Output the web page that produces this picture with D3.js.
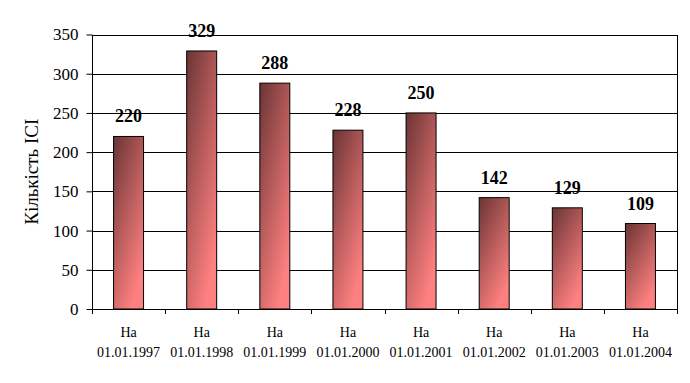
<!DOCTYPE html>
<html><head><meta charset="utf-8">
<script src="https://cdn.jsdelivr.net/npm/d3@7"></script>
<style>body{margin:0;background:#fff;} svg{display:block;}</style>
</head><body>
<svg id="c" width="690" height="383"></svg>
<script>
const labelsTop = ["На","На","На","На","На","На","На","На"];
const dates = ["01.01.1997","01.01.1998","01.01.1999","01.01.2000","01.01.2001","01.01.2002","01.01.2003","01.01.2004"];
const values = [220, 329, 288, 228, 250, 142, 129, 109];
const yTicks = [0, 50, 100, 150, 200, 250, 300, 350];
const yTitle = "Кількість ІСІ";

const svg = d3.select("#c");
const L = 92, R = 677, T = 34.5, B = 309;
const x = d3.scaleBand().domain(dates).range([L, R]).paddingInner(0.59).paddingOuter(0.295);
const y = d3.scaleLinear().domain([0, 350]).range([B, T]);
const FONT = "Liberation Serif, Times New Roman, serif";

const defs = svg.append("defs");
const g = defs.append("linearGradient").attr("id","bg").attr("x1","0").attr("y1","0").attr("x2","0.6").attr("y2","1");
g.append("stop").attr("offset","0").attr("stop-color","#6a3434");
g.append("stop").attr("offset","0.5").attr("stop-color","#b55a5a");
g.append("stop").attr("offset","1").attr("stop-color","#ff8080");

// gridlines
svg.append("g").selectAll("line").data(yTicks.filter(d=>d>0)).join("line")
  .attr("x1", L).attr("x2", R).attr("y1", d=>Math.round(y(d))+0.5).attr("y2", d=>Math.round(y(d))+0.5)
  .attr("stroke","#000").attr("stroke-width",1);

// frame
svg.append("rect").attr("x", L+0.5).attr("y", Math.round(T)+0.5).attr("width", R-L).attr("height", Math.round(B)-Math.round(T))
  .attr("fill","none").attr("stroke","#000");

// bars
svg.append("g").selectAll("rect").data(values).join("rect")
  .attr("x", (d,i)=>x(dates[i])).attr("y", d=>y(d)).attr("width", x.bandwidth()).attr("height", d=>B-y(d))
  .attr("fill","url(#bg)").attr("stroke","#000").attr("stroke-width",1);

// value labels
svg.append("g").selectAll("text").data(values).join("text")
  .attr("x", (d,i)=>x(dates[i])+x.bandwidth()/2).attr("y", d=>y(d)-14)
  .attr("text-anchor","middle").attr("font-family",FONT)
  .attr("font-weight","bold").attr("font-size","18px").text(d=>d);

// y axis
const ya = svg.append("g").attr("transform",`translate(${L+0.5},0)`)
  .call(d3.axisLeft(y).tickValues(yTicks).tickSize(6).tickPadding(8));
ya.select(".domain").remove();
ya.selectAll("line").attr("stroke","#000");
ya.selectAll("text").attr("font-family",FONT).attr("font-size","17px").attr("fill","#000");

// x axis ticks
const cats = x.domain();
const step = (R - L) / cats.length;
svg.append("g").selectAll("line").data(d3.range(cats.length+1)).join("line")
  .attr("x1", i=>Math.round(L+i*step)+0.5).attr("x2", i=>Math.round(L+i*step)+0.5)
  .attr("y1", Math.round(B)).attr("y2", Math.round(B)+5).attr("stroke","#000");

const xl = svg.append("g").selectAll("text").data(dates).join("text")
  .attr("x", d=>x(d)+x.bandwidth()/2).attr("text-anchor","middle")
  .attr("font-family",FONT).attr("font-size","14px");
xl.append("tspan").attr("x", d=>x(d)+x.bandwidth()/2).attr("y", 337).text((d,i)=>labelsTop[i]);
xl.append("tspan").attr("x", d=>x(d)+x.bandwidth()/2).attr("y", 357).text(d=>d);

// y title
svg.append("text").attr("transform",`translate(38,${(T+B)/2}) rotate(-90)`).attr("text-anchor","middle")
  .attr("font-family",FONT).attr("font-size","19px").text(yTitle);
</script>
</body></html>
